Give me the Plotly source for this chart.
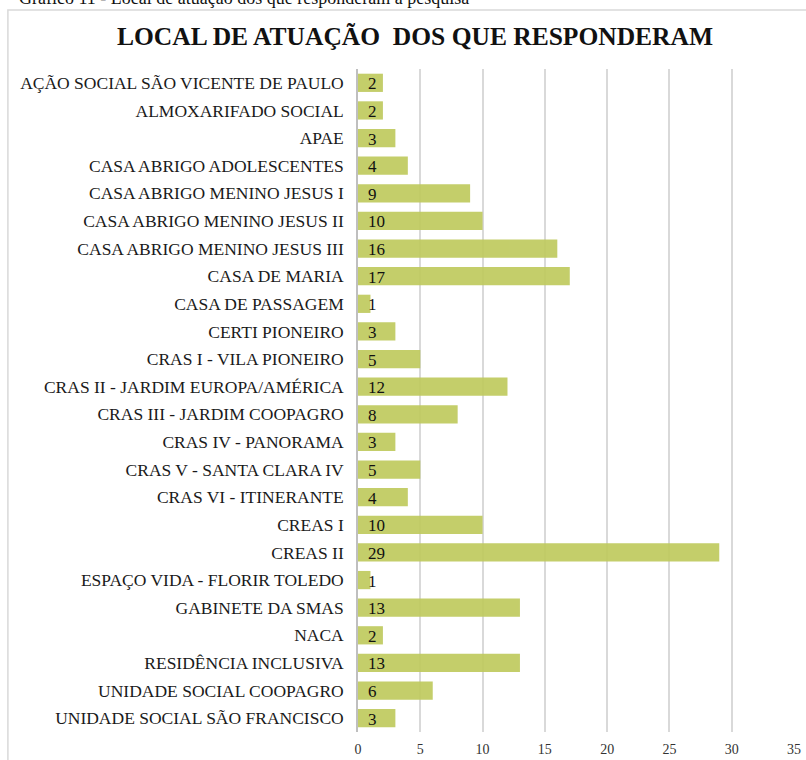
import plotly.graph_objects as go

categories = [
    "AÇÃO SOCIAL SÃO VICENTE DE PAULO",
    "ALMOXARIFADO SOCIAL",
    "APAE",
    "CASA ABRIGO ADOLESCENTES",
    "CASA ABRIGO MENINO JESUS I",
    "CASA ABRIGO MENINO JESUS II",
    "CASA ABRIGO MENINO JESUS III",
    "CASA DE MARIA",
    "CASA DE PASSAGEM",
    "CERTI PIONEIRO",
    "CRAS I - VILA PIONEIRO",
    "CRAS II - JARDIM EUROPA/AMÉRICA",
    "CRAS III - JARDIM COOPAGRO",
    "CRAS IV - PANORAMA",
    "CRAS V - SANTA CLARA IV",
    "CRAS VI - ITINERANTE",
    "CREAS I",
    "CREAS II",
    "ESPAÇO VIDA - FLORIR TOLEDO",
    "GABINETE DA SMAS",
    "NACA",
    "RESIDÊNCIA INCLUSIVA",
    "UNIDADE SOCIAL COOPAGRO",
    "UNIDADE SOCIAL SÃO FRANCISCO",
]
values = [2, 2, 3, 4, 9, 10, 16, 17, 1, 3, 5, 12, 8, 3, 5, 4, 10, 29, 1, 13, 2, 13, 6, 3]
x_ticks = [0, 5, 10, 15, 20, 25, 30, 35]

SERIF = "Liberation Serif, Times New Roman, serif"

fig = go.Figure()
fig.add_trace(go.Bar(
    x=values, y=categories, orientation="h",
    marker=dict(color="#BFCA5E", line=dict(width=0)), opacity=0.92,
    hoverinfo="x+y",
))

for c, v in zip(categories, values):
    fig.add_annotation(x=0, y=c, xref="x", yref="y", text=str(v), showarrow=False,
                       xanchor="left", xshift=8, yshift=-1,
                       font=dict(family=SERIF, size=17, color="#111111"))

# chart box border
fig.add_shape(type="rect", xref="paper", yref="paper",
              x0=-0.803, x1=1.2, y0=-0.2, y1=1.089,
              line=dict(color="#d9d9d9", width=1.5), layer="below")

fig.add_annotation(text="LOCAL DE ATUAÇÃO  DOS QUE RESPONDERAM", xref="paper", yref="paper",
                   x=(415 - 358) / 436, y=(732 - 37) / 663, xanchor="center", yanchor="middle",
                   showarrow=False, font=dict(family=SERIF, size=25.5, color="#111111", weight="bold"))

fig.add_annotation(text="Gráfico 11 - Local de atuação dos que responderam à pesquisa", xref="paper", yref="paper",
                   x=(18 - 358) / 436, y=(732 - 9) / 663, xanchor="left", yanchor="bottom",
                   showarrow=False, font=dict(family=SERIF, size=18, color="#111111"), borderpad=0)

fig.update_layout(
    width=806, height=760,
    margin=dict(l=358, r=12, t=69, b=28),
    paper_bgcolor="white", plot_bgcolor="white",
    bargap=0.34,
    showlegend=False,
    xaxis=dict(range=[0, 35], tickvals=x_ticks, showgrid=True, gridcolor="#d9d9d9", gridwidth=1.5,
               zeroline=False, showline=False, ticks="outside", ticklen=4, tickcolor="rgba(0,0,0,0)",
               automargin=False,
               tickfont=dict(family=SERIF, size=14, color="#333333")),
    yaxis=dict(autorange="reversed", showline=True, linecolor="#bfbfbf", linewidth=1.5,
               ticks="", ticklabelstandoff=9, showgrid=False, automargin=False,
               tickfont=dict(family=SERIF, size=17.5, color="#1a1a1a")),
)

fig.write_html("out.html", config={"displayModeBar": False},
               post_script="document.body.style.margin='0';document.body.style.overflow='hidden';")
